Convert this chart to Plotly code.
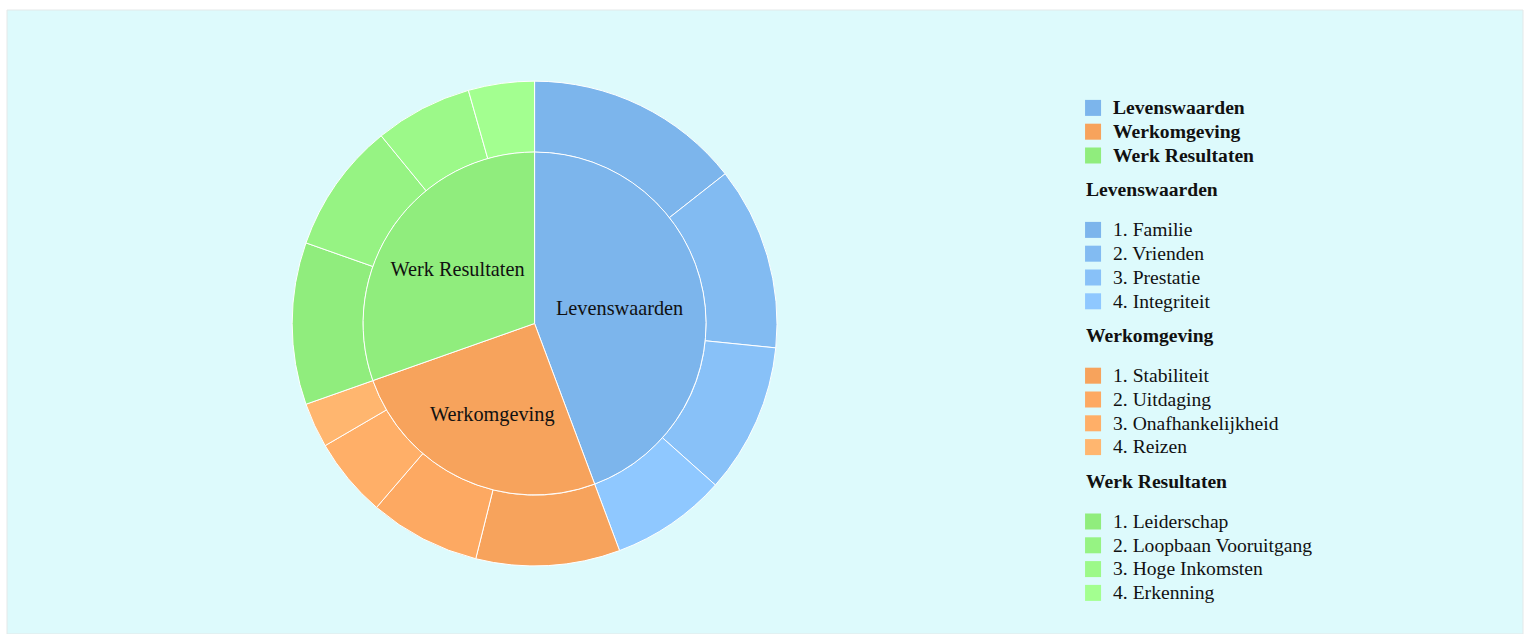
import plotly.graph_objects as go

# Main categories (inner ring)
categories = ["Levenswaarden", "Werkomgeving", "Werk Resultaten"]
category_colors = ["#7cb5ec", "#f7a35c", "#90ed7d"]

# Sub-items per category (outer ring), share of the total in %
levenswaarden_labels = ["1. Familie", "2. Vrienden", "3. Prestatie", "4. Integriteit"]
levenswaarden_values = [14.4, 12.2, 10.0, 7.7]

werkomgeving_labels = ["1. Stabiliteit", "2. Uitdaging", "3. Onafhankelijkheid", "4. Reizen"]
werkomgeving_values = [9.6, 7.4, 5.3, 3.0]

werkresultaten_labels = ["1. Leiderschap", "2. Loopbaan Vooruitgang", "3. Hoge Inkomsten", "4. Erkenning"]
werkresultaten_values = [10.8, 8.7, 6.5, 4.4]

groups = [
    (categories[0], levenswaarden_labels, levenswaarden_values, category_colors[0]),
    (categories[1], werkomgeving_labels, werkomgeving_values, category_colors[1]),
    (categories[2], werkresultaten_labels, werkresultaten_values, category_colors[2]),
]

FONT = "Liberation Serif, Times New Roman, serif"
BG = "#ddfafc"


def brighten(hex_color, amount):
    step = int(255 * amount)
    rgb = [int(hex_color[i:i + 2], 16) for i in (1, 3, 5)]
    rgb = [max(0, min(255, c + step)) for c in rgb]
    return "#" + "".join(f"{c:02x}" for c in rgb)


inner_values = [round(sum(vals), 1) for _, _, vals, _ in groups]

outer_labels, outer_values, outer_colors = [], [], []
for name, labels, vals, color in groups:
    for j, (lab, val) in enumerate(zip(labels, vals)):
        outer_labels.append(lab)
        outer_values.append(val)
        outer_colors.append(brighten(color, 0.025 * j))

fig = go.Figure()

# Outer ring: the sub-items
fig.add_trace(go.Pie(
    labels=outer_labels,
    values=outer_values,
    hole=0.707,
    sort=False,
    direction="clockwise",
    rotation=0,
    marker=dict(colors=outer_colors, line=dict(color="white", width=1)),
    textinfo="none",
    showlegend=False,
    domain=dict(x=[0.188, 0.508], y=[0.109, 0.886]),
))

# Inner pie: the main categories
fig.add_trace(go.Pie(
    labels=categories,
    values=inner_values,
    text=categories,
    sort=False,
    direction="clockwise",
    rotation=0,
    marker=dict(colors=category_colors, line=dict(color="white", width=1)),
    textinfo="text",
    textposition="inside",
    insidetextorientation="horizontal",
    textfont=dict(family=FONT, size=20.3, color="#111111"),
    showlegend=False,
    domain=dict(x=[0.2349, 0.4611], y=[0.2228, 0.7724]),
))


def legend_text(s, bold=False):
    weight = "bold" if bold else "normal"
    return f"<span style='font-size:19.6px;font-weight:{weight}'>{s}</span>"


# Legend entries: main categories first, then the sub-items per category
for name, color in zip(categories, category_colors):
    fig.add_trace(go.Scatter(
        x=[None], y=[None], mode="markers",
        marker=dict(symbol="square", size=16, color=color, line=dict(width=0)),
        name=legend_text(name, bold=True),
        legendgroup="hoofd",
        hoverinfo="skip",
    ))

for (name, labels, vals, color) in groups:
    for j, lab in enumerate(labels):
        fig.add_trace(go.Scatter(
            x=[None], y=[None], mode="markers",
            marker=dict(symbol="square", size=16, color=brighten(color, 0.025 * j), line=dict(width=0)),
            name=legend_text(lab),
            legendgroup=name,
            legendgrouptitle=dict(
                text="<span style='font-size:16px'>&nbsp;&nbsp;</span>"
                     + legend_text(name, bold=True) + "<br>&nbsp;",
                font=dict(family=FONT, size=13, color="#111111"),
            ),
            hoverinfo="skip",
        ))

fig.update_layout(
    width=1528,
    height=634,
    margin=dict(l=7, r=5, t=10, b=0, pad=0),
    paper_bgcolor="white",
    plot_bgcolor=BG,
    font=dict(family=FONT, color="#111111"),
    xaxis=dict(visible=False),
    yaxis=dict(visible=False),
    showlegend=True,
    legend=dict(
        x=0.7032, y=0.8702, xanchor="left", yanchor="top",
        bgcolor="rgba(0,0,0,0)",
        font=dict(family=FONT, size=16, color="#111111"),
        tracegroupgap=13.8,
        traceorder="grouped",
    ),
    shapes=[dict(
        type="rect", xref="paper", yref="paper", x0=0, x1=1, y0=0, y1=1,
        line=dict(color="#e4e8e8", width=1), fillcolor="rgba(0,0,0,0)", layer="below",
    )],
)

fig.write_html("out.html")
